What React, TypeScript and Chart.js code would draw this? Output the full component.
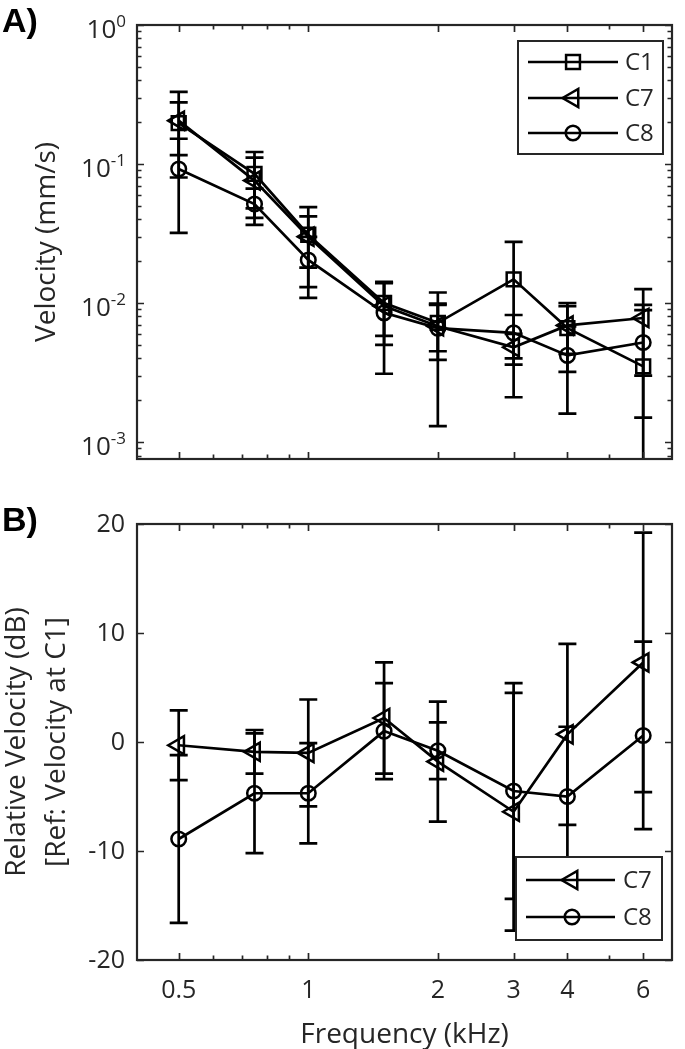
import React, { useEffect, useRef } from 'react';
import { Chart, registerables } from 'chart.js';
Chart.register(...registerables);

const FONT = '"Open Sans", "Noto Sans", sans-serif';
const BOLD_FONT = '"Liberation Sans", Arial, sans-serif';
const INK = '#262626';

// ---- data ----
const freqs = [0.5, 0.75, 1, 1.5, 2, 3, 4, 6];

const c1Vel = [0.197, 0.085, 0.031, 0.0100, 0.0072, 0.0148, 0.0066, 0.0035];
const c1Err = [0.081, 0.037, 0.018, 0.0042, 0.0027, 0.0127, 0.0034, 0.0062];
const c7Vel = [0.205, 0.076, 0.030, 0.0095, 0.0068, 0.0048, 0.0069, 0.0078];
const c7Err = [0.125, 0.035, 0.012, 0.0045, 0.0029, 0.0012, 0.0026, 0.0048];
const c8Vel = [0.092, 0.0515, 0.0204, 0.0085, 0.0066, 0.0061, 0.0042, 0.0052];
const c8Err = [0.060, 0.015, 0.0095, 0.0054, 0.0053, 0.0021, 0.0026, 0.0037];

const c7Rel = [-0.3, -0.9, -1.0, 2.2, -1.8, -6.4, 0.7, 7.3];
const c7RelErr = [3.2, 2.0, 4.9, 5.1, 5.5, 10.9, 8.3, 11.9];
const c8Rel = [-8.9, -4.7, -4.7, 1.0, -0.8, -4.5, -5.0, 0.6];
const c8RelErr = [7.7, 5.5, 4.6, 4.4, 2.6, 9.9, 6.4, 8.6];

const xMajorTicks = [0.5, 1, 2, 3, 4, 6];
const xTickLabels = ['0.5', '1', '2', '3', '4', '6'];
const xMinorTicks = [0.6, 0.7, 0.8, 0.9, 5];

const velMajorTicks = [1, 0.1, 0.01, 0.001];
const velTickExponents = ['0', '-1', '-2', '-3'];
const velMinorTicks = [0.0001, 0.001, 0.01, 0.1].flatMap((d) =>
  [2, 3, 4, 5, 6, 7, 8, 9].map((m) => m * d)
);

const relTicks = [-20, -10, 0, 10, 20];
const relTickLabels = ['-20', '-10', '0', '10', '20'];

const velTitle = 'Velocity (mm/s)';
const relTitle1 = 'Relative Velocity (dB)';
const relTitle2 = '[Ref: Velocity at C1]';
const xTitle = 'Frequency (kHz)';

type MarkerKind = 'rect' | 'triangle' | 'circle';

const LINE_W = 2.7;
const MARK_W = 2.5;

function markerRadius(kind: MarkerKind) {
  return kind === 'rect' ? 9.8 : kind === 'triangle' ? 10.5 : 7.3;
}

function makeDataset(label: string, vals: number[], errs: number[], kind: MarkerKind) {
  return {
    label,
    data: freqs.map((f, i) => ({ x: f, y: vals[i] })),
    errs,
    kind,
    borderColor: '#000',
    borderWidth: LINE_W,
    pointStyle: kind,
    pointRadius: markerRadius(kind),
    pointRotation: kind === 'triangle' ? -90 : 0,
    pointBorderWidth: MARK_W,
    pointBorderColor: '#000',
    pointBackgroundColor: 'rgba(0,0,0,0)',
    tension: 0,
    fill: false,
  };
}

function drawMarker(ctx: CanvasRenderingContext2D, kind: MarkerKind, x: number, y: number) {
  const r = markerRadius(kind);
  ctx.beginPath();
  if (kind === 'rect') {
    const s = Math.SQRT1_2 * r;
    ctx.rect(x - s, y - s, 2 * s, 2 * s);
  } else if (kind === 'circle') {
    ctx.arc(x, y, r, 0, Math.PI * 2);
  } else {
    ctx.moveTo(x - r, y);
    ctx.lineTo(x + r * 0.5, y - r * 0.866);
    ctx.lineTo(x + r * 0.5, y + r * 0.866);
    ctx.closePath();
  }
  ctx.stroke();
}

interface PanelCfg {
  id: string;
  panelLabel: string;
  log: boolean;
  yMajor: number[];
  yMinor: number[];
  drawYLabels: (ctx: CanvasRenderingContext2D, y: any) => void;
  drawYTitle: (ctx: CanvasRenderingContext2D, a: any) => void;
  xLabels: boolean;
  legend: { left: number; top: number; right: number; bottom: number; rows: number[]; lineX: [number, number]; markX: number; textX: number };
}

function makePlugin(cfg: PanelCfg) {
  return {
    id: 'frame_' + cfg.id,
    afterDatasetsDraw(chart: any) {
      const { ctx, chartArea: a } = chart;
      const xs = chart.scales.x;
      const ys = chart.scales.y;

      // error bars
      ctx.save();
      ctx.beginPath();
      ctx.rect(a.left, a.top, a.right - a.left, a.bottom - a.top);
      ctx.clip();
      ctx.strokeStyle = '#000';
      ctx.lineWidth = LINE_W;
      chart.data.datasets.forEach((d: any) => {
        d.data.forEach((p: any, i: number) => {
          const e = d.errs[i];
          const lo = p.y - e;
          const hi = p.y + e;
          const px = xs.getPixelForValue(p.x);
          const loValid = !(cfg.log && lo <= 0);
          const yLo = loValid ? ys.getPixelForValue(lo) : a.bottom + 20;
          const yHi = ys.getPixelForValue(hi);
          ctx.beginPath();
          ctx.moveTo(px, yLo);
          ctx.lineTo(px, yHi);
          ctx.moveTo(px - 9, yHi);
          ctx.lineTo(px + 9, yHi);
          if (loValid) {
            ctx.moveTo(px - 9, yLo);
            ctx.lineTo(px + 9, yLo);
          }
          ctx.stroke();
        });
      });
      ctx.restore();

      // frame and ticks
      ctx.save();
      ctx.strokeStyle = INK;
      ctx.lineWidth = 1.7;
      ctx.beginPath();
      const xt = (v: number, len: number) => {
        const px = Math.round(xs.getPixelForValue(v)) + 0.5;
        ctx.moveTo(px, a.bottom);
        ctx.lineTo(px, a.bottom - len);
        ctx.moveTo(px, a.top);
        ctx.lineTo(px, a.top + len);
      };
      const yt = (v: number, len: number) => {
        const py = Math.round(ys.getPixelForValue(v)) + 0.5;
        ctx.moveTo(a.left, py);
        ctx.lineTo(a.left + len, py);
        ctx.moveTo(a.right, py);
        ctx.lineTo(a.right - len, py);
      };
      xMajorTicks.forEach((v) => xt(v, 7));
      xMinorTicks.forEach((v) => xt(v, 4.5));
      cfg.yMajor.forEach((v) => yt(v, 7));
      cfg.yMinor.forEach((v) => {
        if (v >= ys.min && v <= ys.max) yt(v, 4.5);
      });
      ctx.stroke();
      ctx.lineWidth = 2.2;
      ctx.strokeRect(a.left, a.top, a.right - a.left, a.bottom - a.top);
      ctx.restore();

      // text
      ctx.save();
      ctx.fillStyle = INK;
      cfg.drawYLabels(ctx, ys);
      if (cfg.xLabels) {
        ctx.font = `25px ${FONT}`;
        ctx.textAlign = 'center';
        ctx.textBaseline = 'middle';
        xMajorTicks.forEach((v, i) => {
          ctx.fillText(xTickLabels[i], xs.getPixelForValue(v), a.bottom + 31);
        });
        ctx.font = `28px ${FONT}`;
        ctx.textBaseline = 'alphabetic';
        ctx.fillText(xTitle, (a.left + a.right) / 2, a.bottom + 83);
      }
      cfg.drawYTitle(ctx, a);
      ctx.fillStyle = '#000';
      ctx.font = `bold 34px ${BOLD_FONT}`;
      ctx.textAlign = 'left';
      ctx.textBaseline = 'alphabetic';
      ctx.fillText(cfg.panelLabel, 2, a.top + 7);
      ctx.restore();

      // legend
      const L = cfg.legend;
      ctx.save();
      ctx.fillStyle = '#fff';
      ctx.fillRect(L.left, L.top, L.right - L.left, L.bottom - L.top);
      ctx.strokeStyle = INK;
      ctx.lineWidth = 2;
      ctx.strokeRect(L.left, L.top, L.right - L.left, L.bottom - L.top);
      chart.data.datasets.forEach((d: any, i: number) => {
        const y = L.rows[i];
        ctx.strokeStyle = '#000';
        ctx.lineWidth = LINE_W;
        ctx.beginPath();
        ctx.moveTo(L.lineX[0], y);
        ctx.lineTo(L.lineX[1], y);
        ctx.stroke();
        ctx.lineWidth = MARK_W;
        drawMarker(ctx, d.kind, L.markX, y);
        ctx.fillStyle = INK;
        ctx.font = `24px ${FONT}`;
        ctx.textAlign = 'left';
        ctx.textBaseline = 'middle';
        ctx.fillText(d.label, L.textX, y + 1);
      });
      ctx.restore();
    },
  };
}

const baseOptions = (padding: any, x: any, y: any) => ({
  responsive: false,
  animation: false as const,
  devicePixelRatio: 1,
  layout: { padding },
  scales: { x, y },
  plugins: { legend: { display: false }, tooltip: { enabled: false } },
});

export default function App() {
  const refA = useRef<HTMLCanvasElement>(null);
  const refB = useRef<HTMLCanvasElement>(null);

  useEffect(() => {
    const pluginA = makePlugin({
      id: 'A',
      panelLabel: 'A)',
      log: true,
      yMajor: velMajorTicks,
      yMinor: velMinorTicks,
      drawYLabels: (ctx, ys) => {
        ctx.textAlign = 'right';
        ctx.textBaseline = 'alphabetic';
        velMajorTicks.forEach((v, i) => {
          const py = ys.getPixelForValue(v);
          ctx.font = `17px ${FONT}`;
          const we = ctx.measureText(velTickExponents[i]).width;
          ctx.fillText(velTickExponents[i], 126, py + 2);
          ctx.font = `26px ${FONT}`;
          ctx.fillText('10', 126 - we, py + 13);
        });
      },
      drawYTitle: (ctx, a) => {
        ctx.save();
        ctx.translate(55, (a.top + a.bottom) / 2);
        ctx.rotate(-Math.PI / 2);
        ctx.font = `28px ${FONT}`;
        ctx.textAlign = 'center';
        ctx.textBaseline = 'alphabetic';
        ctx.fillText(velTitle, 0, 0);
        ctx.restore();
      },
      xLabels: false,
      legend: { left: 518, top: 41, right: 663, bottom: 154, rows: [62, 98, 133], lineX: [528, 618], markX: 573, textX: 625 },
    });

    const chartA = new Chart(refA.current!, {
      type: 'line',
      data: {
        datasets: [
          makeDataset('C1', c1Vel, c1Err, 'rect'),
          makeDataset('C7', c7Vel, c7Err, 'triangle'),
          makeDataset('C8', c8Vel, c8Err, 'circle'),
        ] as any,
      },
      options: baseOptions(
        { left: 137, top: 25, right: 3, bottom: 31 },
        { type: 'logarithmic', min: 0.4, max: 7, display: false },
        { type: 'logarithmic', min: 0.000755, max: 1, display: false }
      ) as any,
      plugins: [pluginA],
    });

    const pluginB = makePlugin({
      id: 'B',
      panelLabel: 'B)',
      log: false,
      yMajor: relTicks,
      yMinor: [],
      drawYLabels: (ctx, ys) => {
        ctx.textAlign = 'right';
        ctx.textBaseline = 'middle';
        ctx.font = `25px ${FONT}`;
        relTicks.forEach((v, i) => {
          ctx.fillText(relTickLabels[i], 125, ys.getPixelForValue(v) + 1);
        });
      },
      drawYTitle: (ctx, a) => {
        ctx.save();
        ctx.translate(0, (a.top + a.bottom) / 2);
        ctx.rotate(-Math.PI / 2);
        ctx.font = `28px ${FONT}`;
        ctx.textAlign = 'center';
        ctx.textBaseline = 'alphabetic';
        ctx.fillText(relTitle1, 0, 25);
        ctx.fillText(relTitle2, 0, 65);
        ctx.restore();
      },
      xLabels: true,
      legend: { left: 516, top: 367, right: 662, bottom: 450, rows: [390, 427], lineX: [526, 615], markX: 572, textX: 623 },
    });

    const chartB = new Chart(refB.current!, {
      type: 'line',
      data: {
        datasets: [
          makeDataset('C7', c7Rel, c7RelErr, 'triangle'),
          makeDataset('C8', c8Rel, c8RelErr, 'circle'),
        ] as any,
      },
      options: baseOptions(
        { left: 137, top: 34, right: 3, bottom: 89 },
        { type: 'logarithmic', min: 0.4, max: 7, display: false },
        { type: 'linear', min: -20, max: 20, display: false }
      ) as any,
      plugins: [pluginB],
    });

    return () => {
      chartA.destroy();
      chartB.destroy();
    };
  }, []);

  return (
    <div style={{ position: 'absolute', left: 0, top: 0, width: 685, height: 1049, background: '#fff' }}>
      <canvas ref={refA} width={685} height={490} style={{ position: 'absolute', left: 0, top: 0, width: 685, height: 490 }} />
      <canvas ref={refB} width={685} height={559} style={{ position: 'absolute', left: 0, top: 490, width: 685, height: 559 }} />
    </div>
  );
}
